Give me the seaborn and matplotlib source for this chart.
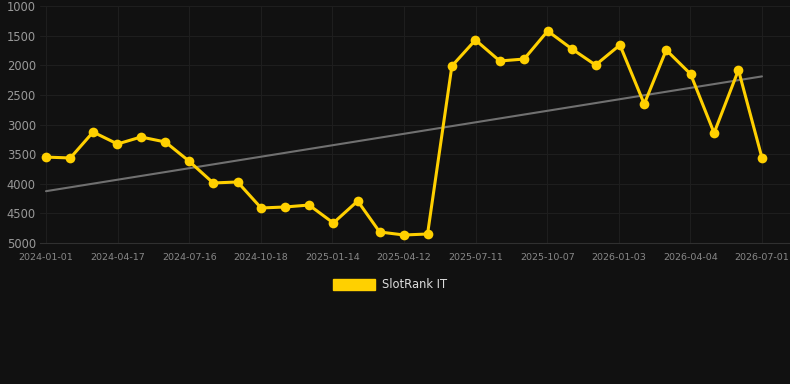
import matplotlib
matplotlib.use("Agg")
import matplotlib.pyplot as plt
import matplotlib.dates as mdates
import seaborn as sns
import pandas as pd
import numpy as np

dates = pd.date_range("2024-01-01", "2026-07-01", freq="MS")
ranks = [3550, 3565, 3127, 3329, 3211, 3295, 3616, 3987, 3970, 4409,
         4392, 4359, 4662, 4291, 4814, 4865, 4848, 2013, 1574, 1928,
         1895, 1422, 1726, 1996, 1658, 2654, 1743, 2148, 3143, 2080, 3565]
tick_labels = ["2024-01-01", "2024-04-17", "2024-07-16", "2024-10-18", "2025-01-14",
               "2025-04-12", "2025-07-11", "2025-10-07", "2026-01-03", "2026-04-04",
               "2026-07-01"]
y_ticks = [1000, 1500, 2000, 2500, 3000, 3500, 4000, 4500, 5000]
series_name = "SlotRank IT"

df = pd.DataFrame({"date": dates, "rank": ranks})

sns.set_theme(style="dark")
bg = "#111111"
fig = plt.figure(figsize=(7.9, 3.84), dpi=100, facecolor=bg)
ax = fig.add_axes([40/790, (384-243)/384, 750/790, (243-6)/384])
ax.set_facecolor(bg)

# trend line (linear fit)
xnum = mdates.date2num(df["date"])
k, b = np.polyfit(xnum, df["rank"], 1)
trend = pd.DataFrame({"date": df["date"].iloc[[0, -1]], "rank": k * xnum[[0, -1]] + b})
sns.lineplot(data=trend, x="date", y="rank", ax=ax, color="#707070", linewidth=1.5, zorder=2)

sns.lineplot(data=df, x="date", y="rank", ax=ax, color="#FFD000", linewidth=2.2,
             marker="o", markersize=7, markeredgewidth=0, zorder=3, label=series_name)

start = pd.Timestamp(tick_labels[0])
end = pd.Timestamp(tick_labels[-1])
days = (end - start).days
ppd = 716 / days
ax.set_xlim(start - pd.Timedelta(days=6/ppd), end + pd.Timedelta(days=28/ppd))
ax.set_ylim(5000, 1000)

tick_pos = [start + (end - start) * i / (len(tick_labels) - 1) for i in range(len(tick_labels))]
ax.set_xticks(tick_pos)
ax.set_xticklabels(tick_labels)
ax.set_yticks(y_ticks)
ax.set_yticklabels([str(v) for v in y_ticks])
ax.tick_params(axis="x", colors="#888888", labelsize=6.8, length=4, width=0.8, pad=3)
ax.tick_params(axis="y", colors="#999999", labelsize=8.3, length=0, pad=3)
for lab in ax.get_xticklabels():
    lab.set_color("#888888")
for lab in ax.get_yticklabels():
    lab.set_color("#999999")
ax.tick_params(axis="x", color="#2a2a2a")

ax.grid(True, color="#1e1e1e", linewidth=0.8)
for s in ["top", "right", "left"]:
    ax.spines[s].set_visible(False)
ax.spines["bottom"].set_color("#303030")
ax.spines["bottom"].set_linewidth(0.8)
ax.set_xlabel("")
ax.set_ylabel("")

handles = [matplotlib.patches.Patch(facecolor="#FFD000", edgecolor="#FFD000")]
fig.legend(handles, [series_name], loc="center", bbox_to_anchor=(390/790, 1 - 285/384),
           frameon=False, handlelength=3.6, handleheight=1.0, fontsize=8.3,
           labelcolor="#dddddd", handletextpad=0.6)
if ax.get_legend():
    ax.get_legend().remove()

fig.savefig("out.png", dpi=100, facecolor=bg)
